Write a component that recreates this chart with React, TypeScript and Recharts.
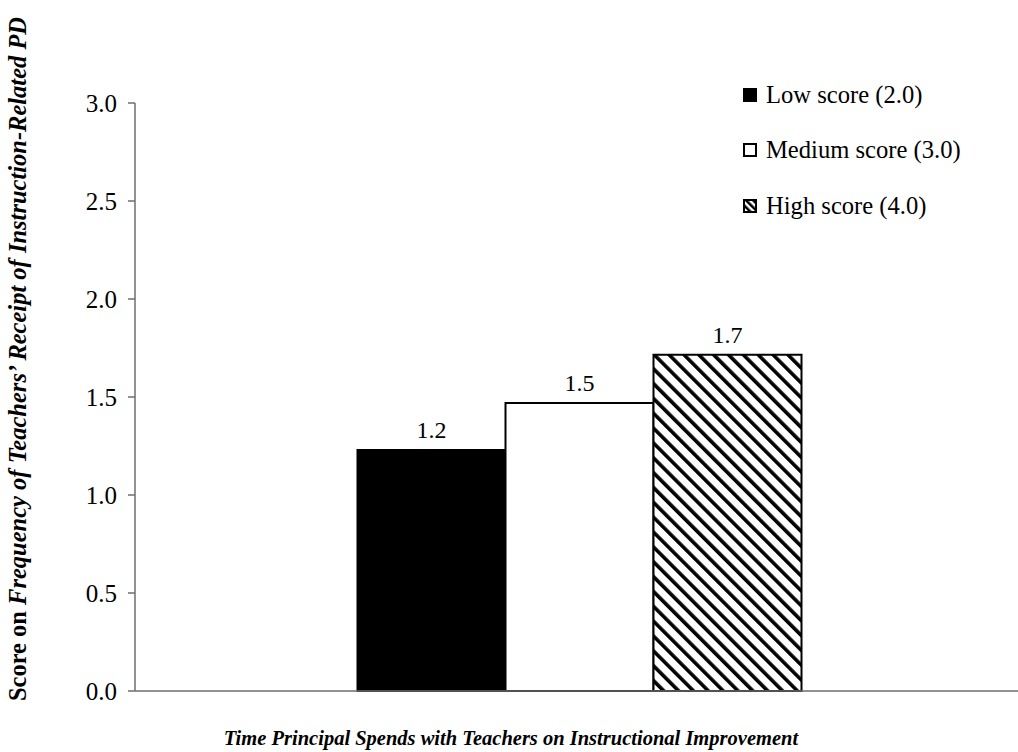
import React from "react";
import { BarChart, Bar, XAxis, YAxis, LabelList } from "recharts";

const categories = ["Time Principal Spends with Teachers on Instructional Improvement"];
const seriesNames = ["Low score (2.0)", "Medium score (3.0)", "High score (4.0)"];
const lowValues = [1.23];
const mediumValues = [1.47];
const highValues = [1.715];
const yTicks = [0, 0.5, 1.0, 1.5, 2.0, 2.5, 3.0];

const data = categories.map((c, i) => ({
  name: c,
  low: lowValues[i],
  medium: mediumValues[i],
  high: highValues[i],
}));

const FONT = "'Liberation Serif', 'Times New Roman', serif";
const AXIS = "#6e6e6e";

const fmt = (v: any) => Number(v).toFixed(1);

const LegendIcon = ({ kind }: { kind: string }) => (
  <svg width={14} height={14} style={{ display: "block" }}>
    <defs>
      <pattern id="legHatch" patternUnits="userSpaceOnUse" width={5} height={5} patternTransform="rotate(-45)">
        <rect width={5} height={5} fill="#fff" />
        <rect x={0} y={0} width={2.5} height={5} fill="#000" />
      </pattern>
    </defs>
    <rect
      x={1}
      y={1}
      width={12}
      height={12}
      fill={kind === "low" ? "#000" : kind === "medium" ? "#fff" : "url(#legHatch)"}
      stroke="#000"
      strokeWidth={2}
    />
  </svg>
);

const LegendBox = () => {
  const kinds = ["low", "medium", "high"];
  return (
    <div style={{ position: "absolute", left: 743, top: 67, fontFamily: FONT, fontSize: 24.6, color: "#000" }}>
      {seriesNames.map((n, i) => (
        <div key={n} style={{ display: "flex", alignItems: "center", height: 55.5 }}>
          <LegendIcon kind={kinds[i]} />
          <span style={{ marginLeft: 9, lineHeight: "24px" }}>{n}</span>
        </div>
      ))}
    </div>
  );
};

const YLabel = () => (
  <text
    transform="translate(26, 359) rotate(-90)"
    textAnchor="middle"
    fontFamily={FONT}
    fontSize={24.5}
    fontWeight="bold"
    fill="#000"
  >
    <tspan>Score on </tspan>
    <tspan fontStyle="italic">Frequency of Teachers’ Receipt of Instruction-Related PD</tspan>
  </text>
);

const XLabel = () => (
  <text
    x={511}
    y={745}
    textAnchor="middle"
    fontFamily={FONT}
    fontSize={20.5}
    fontWeight="bold"
    fontStyle="italic"
    fill="#000"
  >
    {categories[0]}
  </text>
);

export default function App() {
  return (
    <div style={{ position: "absolute", left: 0, top: 0, width: 1018, height: 752, overflow: "hidden", background: "#fff" }}>
      <BarChart
        width={1040}
        height={752}
        data={data}
        margin={{ top: 103, right: 15, bottom: 31, left: 0 }}
        barCategoryGap="25%"
        barGap={0}
      >
        <defs>
          <pattern id="hatch" patternUnits="userSpaceOnUse" width={10.5} height={10.5} patternTransform="rotate(-45)">
            <rect width={10.5} height={10.5} fill="#fff" />
            <rect x={0} y={0} width={3.6} height={10.5} fill="#000" />
          </pattern>
        </defs>
        <XAxis
          dataKey="name"
          height={30}
          tick={false}
          tickLine={false}
          axisLine={{ stroke: AXIS, strokeWidth: 1.5 }}
          label={<XLabel />}
        />
        <YAxis
          width={135}
          domain={[0, 3]}
          ticks={yTicks}
          tickFormatter={fmt}
          tickSize={7}
          tickMargin={11}
          interval={0}
          axisLine={{ stroke: AXIS, strokeWidth: 1.5 }}
          tickLine={{ stroke: AXIS, strokeWidth: 1.5 }}
          tick={{ fill: "#000", fontFamily: FONT, fontSize: 25 }}
          label={<YLabel />}
        />
        <Bar dataKey="low" name={seriesNames[0]} fill="#000" stroke="#000" strokeWidth={2} isAnimationActive={false}>
          <LabelList dataKey="low" position="top" offset={12} formatter={fmt} style={{ fill: "#000", fontFamily: FONT, fontSize: 24 }} />
        </Bar>
        <Bar dataKey="medium" name={seriesNames[1]} fill="#fff" stroke="#000" strokeWidth={2} isAnimationActive={false}>
          <LabelList dataKey="medium" position="top" offset={12} formatter={fmt} style={{ fill: "#000", fontFamily: FONT, fontSize: 24 }} />
        </Bar>
        <Bar dataKey="high" name={seriesNames[2]} fill="url(#hatch)" stroke="#000" strokeWidth={2} isAnimationActive={false}>
          <LabelList dataKey="high" position="top" offset={12} formatter={fmt} style={{ fill: "#000", fontFamily: FONT, fontSize: 24 }} />
        </Bar>
      </BarChart>
      <LegendBox />
    </div>
  );
}
